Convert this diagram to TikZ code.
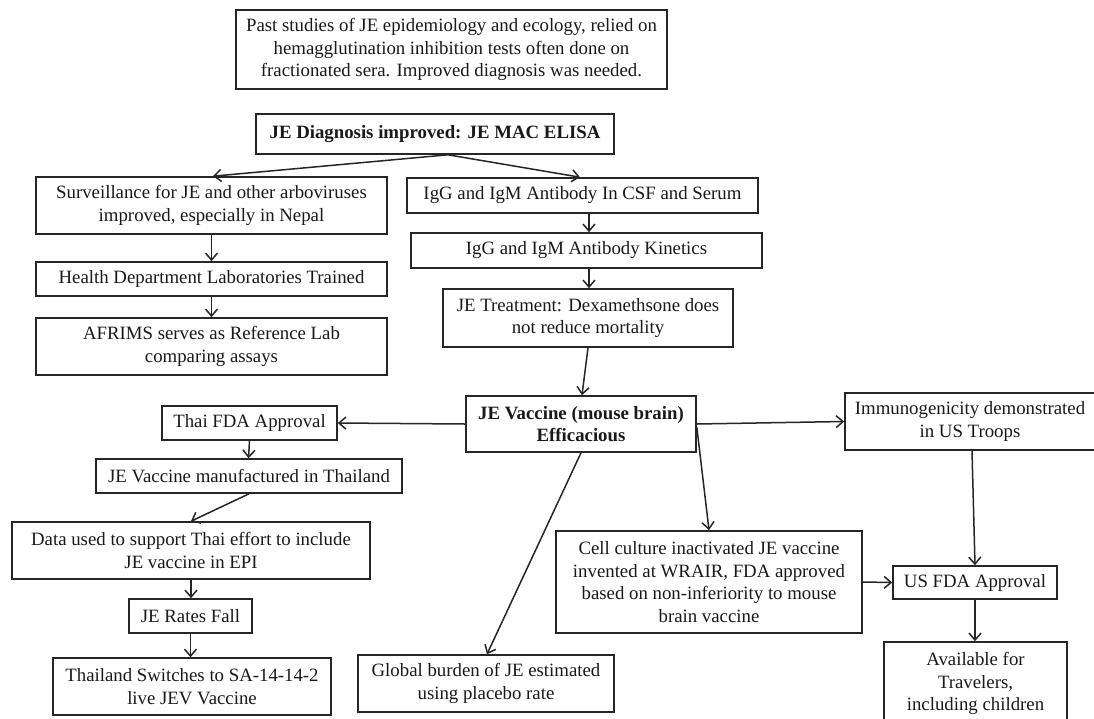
\documentclass[tikz,border=0pt]{standalone}
\usepackage{fontspec}
\setmainfont{Liberation Serif}
\usetikzlibrary{arrows.meta}
\begin{document}
\begin{tikzpicture}[x=1pt,y=-1pt,
  box/.style={draw=black!85,line width=1.6pt,align=center,inner sep=0pt,
    font=\fontsize{18.8}{22.5}\selectfont,text=black!90},
  arr/.style={draw=black!85,line width=1.5pt,-{Straight Barb[length=7pt,width=12pt,line width=1.5pt]}}]
\useasboundingbox (0,0) rectangle (1094,718);
\clip (0,0) rectangle (1094,718);
\node[box,minimum width=431,minimum height=79] (past) at (451.5,49.5)
  {Past studies of JE epidemiology and ecology, relied on\\hemagglutination inhibition tests often done on\\fractionated sera. Improved diagnosis was needed.};
\node[box,minimum width=358,minimum height=40,font=\fontsize{18.8}{22.5}\selectfont\bfseries] (diag) at (435,134)
  {JE Diagnosis improved: JE MAC ELISA};
\node[box,minimum width=351,minimum height=57] (surv) at (211.5,205.5)
  {Surveillance for JE and other arboviruses\\improved, especially in Nepal};
\node[box,minimum width=351,minimum height=34] (health) at (211.5,279)
  {Health Department Laboratories Trained};
\node[box,minimum width=351,minimum height=57] (afrims) at (211.5,346.5)
  {AFRIMS serves as Reference Lab\\comparing assays};
\node[box,minimum width=351,minimum height=35] (csf) at (582.5,195.5)
  {IgG and IgM Antibody In CSF and Serum};
\node[box,minimum width=351,minimum height=35] (kin) at (586.5,250.5)
  {IgG and IgM Antibody Kinetics};
\node[box,minimum width=290,minimum height=58] (treat) at (588,318)
  {JE Treatment: Dexamethsone does\\not reduce mortality};
\node[box,minimum width=230,minimum height=56,font=\fontsize{18.8}{22.5}\selectfont\bfseries] (vacc) at (581,424)
  {JE Vaccine (mouse brain)\\Efficacious};
\node[box,minimum width=175,minimum height=34] (thaifda) at (249.5,423)
  {Thai FDA Approval};
\node[box,minimum width=306,minimum height=34] (manuf) at (249,476)
  {JE Vaccine manufactured in Thailand};
\node[box,minimum width=358,minimum height=57] (data) at (191,550.5)
  {Data used to support Thai effort to include\\JE vaccine in EPI};
\node[box,minimum width=123,minimum height=34] (rates) at (190.5,616)
  {JE Rates Fall};
\node[box,minimum width=278,minimum height=57] (switch) at (192,686.5)
  {Thailand Switches to SA-14-14-2\\live JEV Vaccine};
\node[box,minimum width=256,minimum height=57] (global) at (486,683.5)
  {Global burden of JE estimated\\using placebo rate};
\node[box,minimum width=306,minimum height=102] (cell) at (709,582)
  {Cell culture inactivated JE vaccine\\invented at WRAIR, FDA approved\\based on non-inferiority to mouse\\brain vaccine};
\node[box,minimum width=250,minimum height=57] (immuno) at (970,421.5)
  {Immunogenicity demonstrated\\in US Troops};
\node[box,minimum width=164,minimum height=33] (usfda) at (975,582.5)
  {US FDA Approval};
\node[box,minimum width=183,minimum height=83] (avail) at (975.5,683.5)
  {Available for\\Travelers,\\including children};
% connectors
\draw[arr] ([xshift=13pt]diag.south) -- ([xshift=1.5pt]surv.north);
\draw[arr] ([xshift=13pt]diag.south) -- ([xshift=-2.5pt]csf.north);
\draw[arr] (surv) -- (health);
\draw[arr] (health) -- (afrims);
\draw[arr] ([xshift=6.5pt]csf.south) -- ([xshift=2.5pt]kin.north);
\draw[arr] ([xshift=2.5pt]kin.south) -- ([xshift=1pt]treat.north);
\draw[arr] (treat.south) -- ([xshift=1pt]vacc.north);
\draw[arr] (vacc.west) -- (thaifda.east);
\draw[arr] (vacc.east) -- (immuno.west);
\draw[arr] ([yshift=-3pt]vacc.east) -- (cell.north);
\draw[arr] (vacc.south) -- ([xshift=1pt]global.north);
\draw[arr] (thaifda.south) -- ([xshift=-0.5pt]manuf.north);
\draw[arr] (manuf.south) -- (data.north);
\draw[arr] (data.south) -- ([xshift=0.5pt]rates.north);
\draw[arr] (rates.south) -- ([xshift=-1.5pt]switch.north);
\draw[arr] (cell.east) -- (usfda.west);
\draw[arr] ([xshift=2pt]immuno.south) -- (usfda.north);
\draw[arr] (usfda.south) -- ([xshift=-0.5pt]avail.north);
\end{tikzpicture}
\end{document}
